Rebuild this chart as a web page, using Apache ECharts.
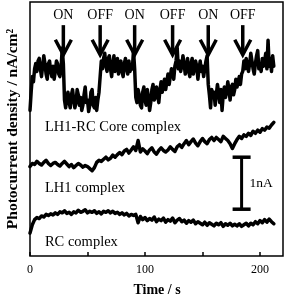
<!DOCTYPE html>
<html><head><meta charset="utf-8">
<script src="https://cdn.jsdelivr.net/npm/echarts@6/dist/echarts.min.js"></script>
<style>html,body{margin:0;padding:0;background:#fff}#c{width:285px;height:298px}</style>
</head><body><div id="c"></div>
<script>
// Photocurrent (nA, arbitrary offset) sampled every 1 s
const coreValues = [
2.8,3.15,3.45,3.35,3.6,3.7,3.55,3.75,3.8,3.6,
3.45,3.65,3.85,3.7,3.5,3.4,3.7,3.75,3.55,3.45,
3.65,3.4,3.55,3.75,3.7,3.5,3.45,3.6,4.0,3.7,
3.0,2.85,3.05,3.15,2.95,2.85,3.1,3.2,3.0,2.85,
2.95,3.2,3.1,2.9,3.05,2.8,2.9,3.1,3.25,2.95,
3.0,2.78,2.9,3.15,3.2,2.9,2.85,3.05,2.8,3.0,
3.15,3.45,3.75,3.6,3.8,3.9,3.65,3.55,3.8,3.85,
3.6,3.45,3.7,3.85,3.55,3.6,3.8,3.5,3.7,3.75,
3.55,3.45,3.7,3.8,3.6,3.5,3.75,3.55,3.65,3.6,
3.95,3.6,3.05,2.95,3.2,3.1,2.9,2.85,3.15,3.25,
3.0,2.9,3.2,3.05,2.8,2.95,3.2,3.3,3.0,3.05,
3.25,3.1,2.95,3.2,3.35,3.15,3.3,3.4,3.2,3.35,
3.5,3.3,3.45,3.6,3.55,3.4,3.65,3.75,4.0,3.6,
3.75,3.55,3.65,3.85,3.7,3.5,3.6,3.8,3.55,3.45,
3.7,3.8,3.5,3.6,3.75,3.65,3.4,3.6,3.75,3.55,
3.65,3.45,3.6,3.75,3.85,3.3,3.1,2.85,3.2,3.05,
3.15,2.9,3.1,3.3,3.15,2.95,3.2,2.8,3.1,3.25,
3.05,3.15,3.35,3.2,3.0,3.25,3.3,3.1,3.2,3.4,
3.25,3.35,3.45,3.3,3.5,3.55,3.75,3.6,3.8,3.65,
3.55,3.7,3.9,3.75,3.6,3.5,3.7,3.85,3.95,3.6,
3.7,3.55,3.8,3.65,3.75,3.9,3.6,4.15,3.65,3.8,
3.55,3.85,3.65
];
const coreStep = 1;
// sampled every 2 s
const lh1Values = [
1.72,1.78,1.76,1.82,1.78,1.75,1.8,1.84,1.78,1.74,
1.78,1.8,1.76,1.73,1.78,1.82,1.77,1.72,1.76,1.7,
1.74,1.78,1.75,1.71,1.74,1.72,1.68,1.64,1.7,1.8,
1.84,1.82,1.86,1.9,1.85,1.88,1.94,1.9,1.95,1.99,
1.95,2.02,2.05,1.98,2.04,2.1,2.03,2.22,2.0,2.06,
2.02,1.97,2.04,2.08,2.0,1.96,2.03,2.08,2.03,2.0,
2.04,2.1,2.05,2.01,2.1,2.14,2.09,2.16,2.22,2.14,
2.2,2.25,2.17,2.12,2.2,2.26,2.2,2.16,2.24,2.28,
2.22,2.28,2.24,2.2,2.3,2.26,2.22,2.16,2.07,2.16,
2.24,2.3,2.26,2.33,2.3,2.36,2.32,2.4,2.36,2.42,
2.38,2.45,2.42,2.48,2.46,2.52,2.57
];
const lh1Step = 2;
const rcValues = [
0.44,0.6,0.7,0.74,0.72,0.77,0.75,0.8,0.78,0.81,
0.79,0.83,0.8,0.85,0.83,0.87,0.82,0.84,0.8,0.85,
0.83,0.88,0.84,0.86,0.89,0.83,0.86,0.84,0.87,0.82,
0.85,0.81,0.86,0.84,0.87,0.83,0.86,0.82,0.84,0.8,
0.83,0.79,0.82,0.77,0.8,0.78,0.8,0.64,0.76,0.7,
0.74,0.68,0.72,0.69,0.75,0.66,0.71,0.68,0.73,0.65,
0.7,0.67,0.73,0.64,0.69,0.72,0.66,0.69,0.63,0.68,
0.65,0.69,0.62,0.66,0.63,0.6,0.65,0.59,0.64,0.61,
0.58,0.63,0.6,0.64,0.57,0.62,0.59,0.63,0.58,0.61,
0.58,0.62,0.57,0.6,0.63,0.58,0.63,0.6,0.66,0.62,
0.68,0.64,0.7,0.65,0.71,0.66,0.62
];
const rcStep = 2;
const switchTimes = [29, 61, 91, 124, 155, 185];
const switchLabels = ['ON', 'OFF', 'ON', 'OFF', 'ON', 'OFF'];
const xTickLabels = [0, 100, 200];
const traceNames = ['LH1-RC Core complex', 'LH1 complex', 'RC complex'];
const scaleBar = { time: 184, bottom: 0.9, size: 1, label: '1nA' };

const FONT = 'Liberation Serif';
const toPairs = (vals, step) => vals.map((v, i) => [i * step, v]);

const chart = echarts.init(document.getElementById('c'), null, { renderer: 'canvas' });
const lineStyle = { color: '#000', width: 3.5, cap: 'round', join: 'round' };
chart.setOption({
  animation: false,
  grid: { left: 30, right: 2, top: 2, bottom: 42, show: true, borderColor: '#000', borderWidth: 1.5, backgroundColor: 'transparent' },
  xAxis: {
    type: 'value', min: 0, max: 220, interval: 50,
    axisLine: { show: false },
    axisTick: { show: true, inside: true, length: 4, lineStyle: { color: '#000', width: 1.5 } },
    splitLine: { show: false },
    axisLabel: {
      margin: 8, color: '#000', fontFamily: FONT, fontSize: 12,
      showMaxLabel: false,
      formatter: v => xTickLabels.includes(v) ? String(v) : ''
    }
  },
  yAxis: {
    type: 'value', min: 0, max: 4.885,
    axisLine: { show: false }, axisTick: { show: false }, axisLabel: { show: false }, splitLine: { show: false }
  },
  series: [
    { type: 'line', data: toPairs(coreValues, coreStep), showSymbol: false, lineStyle, silent: true },
    { type: 'line', data: toPairs(lh1Values, lh1Step), showSymbol: false, lineStyle, silent: true },
    { type: 'line', data: toPairs(rcValues, rcStep), showSymbol: false, lineStyle, silent: true }
  ]
});

const px = (t, v) => chart.convertToPixel({ gridIndex: 0 }, [t, v]);
const g = [];
const txt = (x, y, s, size, opts = {}) => g.push(Object.assign({
  type: 'text', x, y,
  style: Object.assign({ text: s, fill: '#000', font: (opts.bold ? 'bold ' : '') + size + 'px "' + FONT + '"', textAlign: 'center', textVerticalAlign: 'middle' }, opts.style || {})
}, opts.el || {}));

// ON / OFF arrows
const arrowTopV = 4.44, arrowTipV = 3.87;
switchTimes.forEach((t, i) => {
  const [x, yTop] = px(t, arrowTopV);
  const yTip = px(t, arrowTipV)[1];
  g.push({ type: 'line', shape: { x1: x, y1: yTop, x2: x, y2: yTip - 2 }, style: { stroke: '#000', lineWidth: 3.5 } });
  g.push({ type: 'polyline', shape: { points: [[x - 8, yTip - 15], [x, yTip], [x + 8, yTip - 15]] }, style: { stroke: '#000', lineWidth: 3.5, fill: null, lineJoin: 'miter' } });
  txt(x, yTop - 10, switchLabels[i], 14);
});

// trace labels
const labelAnchors = [[13, 2.48], [13, 1.31], [13, 0.27]];
traceNames.forEach((n, i) => {
  const [x, y] = px(labelAnchors[i][0], labelAnchors[i][1]);
  txt(x, y, n, 14.5, { style: { textAlign: 'left' } });
});

// scale bar
{
  const [x, yb] = px(scaleBar.time, scaleBar.bottom);
  const yt = px(scaleBar.time, scaleBar.bottom + scaleBar.size)[1];
  g.push({ type: 'line', shape: { x1: x, y1: yb, x2: x, y2: yt }, style: { stroke: '#000', lineWidth: 3 } });
  g.push({ type: 'line', shape: { x1: x - 9, y1: yb, x2: x + 9, y2: yb }, style: { stroke: '#000', lineWidth: 3.5 } });
  g.push({ type: 'line', shape: { x1: x - 9, y1: yt, x2: x + 9, y2: yt }, style: { stroke: '#000', lineWidth: 3.5 } });
  txt(x + 8, (yb + yt) / 2, scaleBar.label, 13.5, { style: { textAlign: 'left' } });
}

// axis titles
txt(157, 290, 'Time / s', 14, { bold: true });
txt(13, 129, 'Photocurrent density / nA/cm\u00b2', 15.5, { bold: true, el: { rotation: Math.PI / 2 } });

chart.setOption({ graphic: { elements: g } });
</script>
</body></html>
